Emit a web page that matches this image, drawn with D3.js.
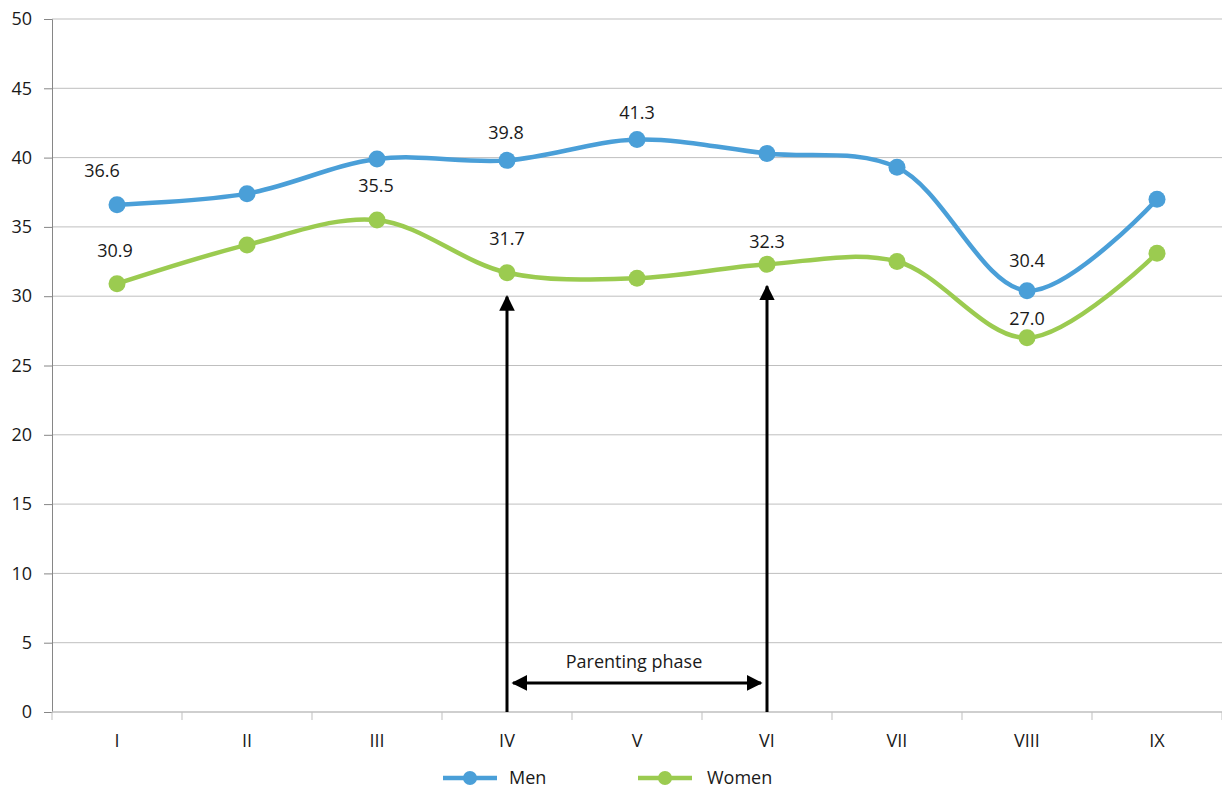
<!DOCTYPE html>
<html><head><meta charset="utf-8">
<script src="https://cdn.jsdelivr.net/npm/d3@7"></script>
<style>
html,body{margin:0;padding:0;background:#fff;}
svg text{font-family:"Open Sans","Noto Sans",sans-serif;fill:#1a1a1a;}
</style></head>
<body>
<svg id="chart" width="1222" height="790"></svg>
<script>
const categories = ["I","II","III","IV","V","VI","VII","VIII","IX"];
const menValues = [36.6, 37.4, 39.9, 39.8, 41.3, 40.3, 39.3, 30.4, 37.0];
const womenValues = [30.9, 33.7, 35.5, 31.7, 31.3, 32.3, 32.5, 27.0, 33.1];
const yTicks = [0,5,10,15,20,25,30,35,40,45,50];
const seriesNames = ["Men","Women"];
// which points carry a value label (category index)
const menLabeled = [0, 3, 4, 7];
const womenLabeled = [0, 2, 3, 5, 7];
const phaseStart = "IV", phaseEnd = "VI";
const phaseLabel = "Parenting phase";

(function(){
const FS = "18px";
const FF = "'Open Sans','Noto Sans',sans-serif";
const colors = {Men:"#4a9fd8", Women:"#9bcb50"};
// label offsets [dx, dy] relative to point (layout only)
const menLabelOff = {0:[-15,-28],3:[-1,-21],4:[0,-21],7:[0,-24]};
const womenLabelOff = {0:[-2,-27],2:[-1,-28],3:[0,-28],5:[0,-16],7:[0,-13]};

const svg = d3.select("#chart");
const mLeft = 52, mRight = 1222, mTop = 19, mBottom = 712;
const x = d3.scaleBand().domain(categories).range([mLeft, mRight]).padding(0);
const y = d3.scaleLinear().domain([0,50]).range([mBottom, mTop]);
const cx = c => x(c) + x.bandwidth()/2;

// gridlines
svg.append("g").selectAll("line").data(yTicks.filter(t=>t>0)).join("line")
  .attr("x1", mLeft).attr("x2", mRight)
  .attr("y1", d=>y(d)).attr("y2", d=>y(d))
  .attr("stroke", "#bfbfbf").attr("stroke-width", 1);

// y axis
const yAxis = d3.axisLeft(y).tickValues(yTicks).tickSize(8).tickPadding(12).tickFormat(d3.format("d"));
const gy = svg.append("g").attr("transform", `translate(${mLeft},0)`).call(yAxis);
gy.attr("font-family", null).attr("font-size", null);
gy.select(".domain").attr("stroke", "#868686");
gy.selectAll(".tick line").attr("stroke", "#868686");
gy.selectAll(".tick text").style("font-family",FF).style("font-size",FS).attr("fill","#1a1a1a");

// x axis
const gx = svg.append("g").attr("transform", `translate(0,${mBottom})`);
gx.append("line").attr("x1", mLeft).attr("x2", mRight).attr("y1",0).attr("y2",0).attr("stroke","#bfbfbf").attr("stroke-width",1.5);
const boundaries = categories.map(c => x(c)).concat([mRight]);
gx.selectAll("line.tk").data(boundaries).join("line").attr("class","tk")
  .attr("x1", d=>d).attr("x2", d=>d).attr("y1",0).attr("y2",8).attr("stroke","#bfbfbf");
gx.selectAll("text").data(categories).join("text")
  .attr("x", d=>cx(d)).attr("y", 35).attr("text-anchor","middle")
  .style("font-family",FF).style("font-size",FS).text(d=>d);

// lines
const line = d3.line().x(d=>cx(d.c)).y(d=>y(d.v)).curve(d3.curveCatmullRom.alpha(0.5));
const series = [
  {name:"Men", data: categories.map((c,i)=>({c, v:menValues[i]})), labeled: menLabeled, off: menLabelOff},
  {name:"Women", data: categories.map((c,i)=>({c, v:womenValues[i]})), labeled: womenLabeled, off: womenLabelOff}
];

const defs = svg.append("defs");
defs.append("marker").attr("id","ah").attr("viewBox","0 0 10 10").attr("refX",9).attr("refY",5)
  .attr("markerWidth",5.2).attr("markerHeight",5.2).attr("orient","auto-start-reverse")
  .append("path").attr("d","M0,0 L10,5 L0,10 z").attr("fill","#000");

const ann = svg.append("g");
const startI = categories.indexOf(phaseStart), endI = categories.indexOf(phaseEnd);
ann.append("line").attr("x1", cx(phaseStart)).attr("x2", cx(phaseStart))
  .attr("y1", mBottom).attr("y2", y(womenValues[startI]) + 24)
  .attr("stroke","#000").attr("stroke-width",3).attr("marker-end","url(#ah)");
ann.append("line").attr("x1", cx(phaseEnd)).attr("x2", cx(phaseEnd))
  .attr("y1", mBottom).attr("y2", y(womenValues[endI]) + 22)
  .attr("stroke","#000").attr("stroke-width",3).attr("marker-end","url(#ah)");
ann.append("line").attr("x1", cx(phaseStart)+6).attr("x2", cx(phaseEnd)-6)
  .attr("y1", y(2.1)).attr("y2", y(2.1))
  .attr("stroke","#000").attr("stroke-width",3)
  .attr("marker-end","url(#ah)").attr("marker-start","url(#ah)");
ann.append("text").attr("x", (cx(phaseStart)+cx(phaseEnd))/2 - 3).attr("y", y(3.2))
  .attr("text-anchor","middle").style("font-family",FF).style("font-size",FS).text(phaseLabel);

series.forEach(s => {
  svg.append("path").datum(s.data).attr("d", line)
    .attr("fill","none").attr("stroke", colors[s.name]).attr("stroke-width",4.5);
  svg.append("g").selectAll("circle").data(s.data).join("circle")
    .attr("cx", d=>cx(d.c)).attr("cy", d=>y(d.v)).attr("r", 8.5).attr("fill", colors[s.name]);
  svg.append("g").selectAll("text").data(s.labeled).join("text")
    .attr("x", i => cx(categories[i]) + s.off[i][0])
    .attr("y", i => y(s.data[i].v) + s.off[i][1])
    .attr("text-anchor","middle").style("font-family",FF).style("font-size",FS)
    .text(i => s.data[i].v.toFixed(1));
});

// legend
const legendPos = [{x:443, t:509}, {x:638, t:707}];
seriesNames.forEach((n,i) => {
  const g = svg.append("g");
  const lp = legendPos[i];
  g.append("line").attr("x1", lp.x).attr("x2", lp.x+54).attr("y1",778).attr("y2",778)
    .attr("stroke", colors[n]).attr("stroke-width",4.5);
  g.append("circle").attr("cx", lp.x+27).attr("cy",778).attr("r",7).attr("fill", colors[n]);
  g.append("text").attr("x", lp.t).attr("y", 784).style("font-family",FF).style("font-size",FS).text(n);
});
})();
</script>
</body></html>
